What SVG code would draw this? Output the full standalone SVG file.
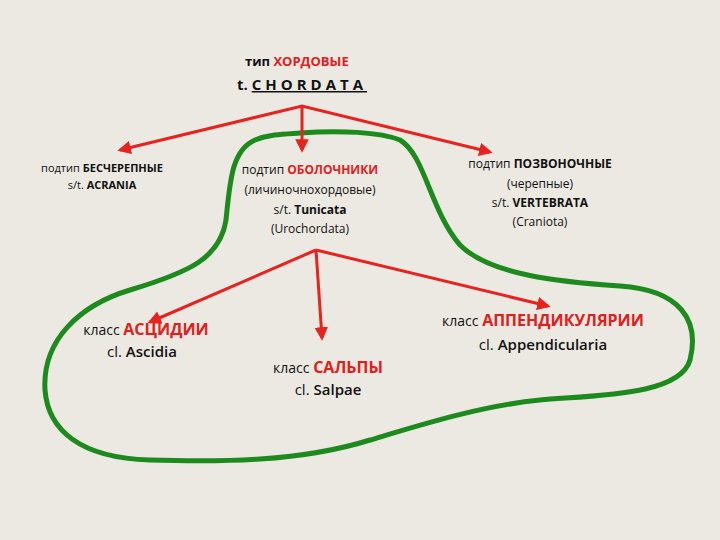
<svg xmlns="http://www.w3.org/2000/svg" width="720" height="540" viewBox="0 0 720 540">
<defs>
<marker id="ar" viewBox="0 0 10 10" refX="8" refY="5" markerWidth="4.5" markerHeight="4.5" orient="auto-start-reverse"><path d="M0,0L10,5L0,10z" fill="#e8231f"/></marker>
<style>
text{font-family:"Open Sans","Liberation Sans",sans-serif;fill:#111}
.r{fill:#e0201c}
.b{font-weight:bold}
.l{stroke:#e8231f;stroke-width:3;fill:none}
</style>
</defs>
<rect width="720" height="540" fill="#ece9e2"/>
<path d="M300,133 C340,130 380,132 400,140 C425,155 430,210 460,245 C490,275 560,282 620,286 C680,290 700,320 690,360 C680,395 600,395 540,400 C480,406 420,425 370,440 C300,462 220,462 150,460 C80,458 48,430 45,390 C42,340 80,305 130,290 C190,272 220,258 226,220 C230,180 232,150 255,140 C270,134 285,134 300,133 Z" fill="none" stroke="#1d8a1d" stroke-width="5"/>
<g id="connectors">
<polyline class="l" points="120,150 302,106 490,152" marker-start="url(#ar)" marker-end="url(#ar)"/>
<line class="l" x1="302" y1="106" x2="302" y2="150" marker-end="url(#ar)"/>
<line class="l" x1="316" y1="250" x2="150" y2="322" marker-end="url(#ar)"/>
<line class="l" x1="316" y1="250" x2="322" y2="338" marker-end="url(#ar)"/>
<line class="l" x1="316" y1="250" x2="548" y2="306" marker-end="url(#ar)"/>
</g>
<g id="chordata" font-weight="bold"><text x="245" y="66" font-size="13">тип <tspan class="r">ХОРДОВЫЕ</tspan></text>
<text x="237" y="90" font-size="15">t. <tspan text-decoration="underline" letter-spacing="4">CHORDATA</tspan></text></g>
<g id="acrania" font-size="11"><text x="102" y="172" text-anchor="middle">подтип <tspan class="b">БЕСЧЕРЕПНЫЕ</tspan></text><text x="102" y="189" text-anchor="middle">s/t. <tspan class="b">ACRANIA</tspan></text></g>
<g id="tunicata" font-size="12" text-anchor="middle"><text x="310" y="174">подтип <tspan class="r b">ОБОЛОЧНИКИ</tspan></text><text x="310" y="194">(личиночнохордовые)</text><text x="310" y="214">s/t. <tspan class="b">Tunicata</tspan></text><text x="310" y="233">(Urochordata)</text></g>
<g id="vertebrata" font-size="12" text-anchor="middle"><text x="540" y="168">подтип <tspan class="b">ПОЗВОНОЧНЫЕ</tspan></text><text x="540" y="188">(черепные)</text><text x="540" y="207">s/t. <tspan class="b">VERTEBRATA</tspan></text><text x="540" y="226">(Craniota)</text></g>
<g id="ascidia" text-anchor="middle"><text x="146" y="335" font-size="14">класс <tspan class="r b" font-size="16">АСЦИДИИ</tspan></text><text x="142" y="357" font-size="15">cl. <tspan font-weight="600">Ascidia</tspan></text></g>
<g id="salpae" text-anchor="middle"><text x="328" y="373" font-size="14">класс <tspan class="r b" font-size="16">САЛЬПЫ</tspan></text><text x="328" y="395" font-size="15">cl. <tspan font-weight="600">Salpae</tspan></text></g>
<g id="appendicularia" text-anchor="middle"><text x="543" y="326" font-size="14">класс <tspan class="r b" font-size="16">АППЕНДИКУЛЯРИИ</tspan></text><text x="543" y="350" font-size="15">cl. <tspan font-weight="600">Appendicularia</tspan></text></g>
</svg>
